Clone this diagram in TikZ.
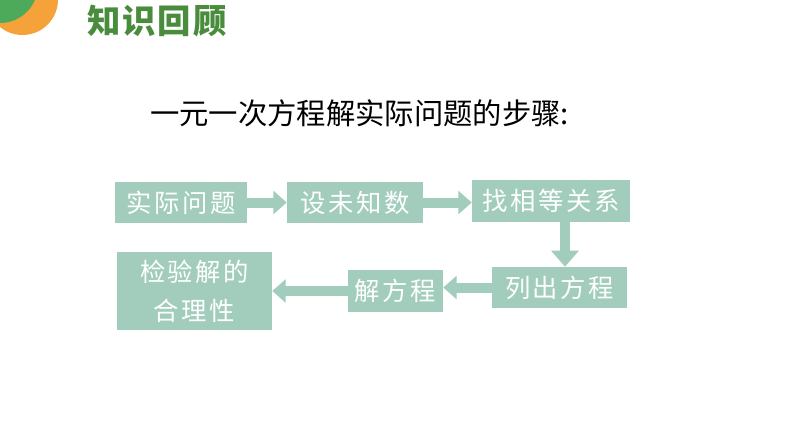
\documentclass[tikz,border=0pt]{standalone}
\usepackage{fontspec}
\usetikzlibrary{arrows.meta}
\newfontfamily\cjk{Noto Sans CJK SC}
\newfontfamily\cjkbox{Noto Sans CJK SC}[LetterSpace=10]
\newfontfamily\cjkhead{Noto Sans CJK SC}[LetterSpace=6]
\definecolor{boxc}{RGB}{162,205,189}
\definecolor{headgreen}{RGB}{72,140,60}
\definecolor{corngreen}{RGB}{76,170,90}
\definecolor{cornorange}{RGB}{246,162,58}
\tikzset{
  stepbox/.style={fill=boxc, text=white, inner sep=0pt, align=center,
    font=\cjkbox\fontsize{19pt}{29pt}\selectfont},
  arr/.style={draw=boxc, line width=7.5pt, -{Triangle[length=10pt,width=17pt]}},
  darr/.style={draw=boxc, line width=8pt, -{Triangle[length=12pt,width=20pt]}}
}
\begin{document}
\begin{tikzpicture}[x=0.75pt,y=-0.75pt]
\useasboundingbox (0,0) rectangle (794,447);
\fill[white] (0,0) rectangle (794,447);
% corner decoration
\begin{scope}
\clip (0,0) rectangle (794,447);
\fill[cornorange] (22.5,-0.5) circle[radius=35.5*0.75pt];
\fill[corngreen] (0,-15) circle[radius=38*0.75pt];
\end{scope}
% header
\node[anchor=west, text=headgreen, font=\cjkhead\bfseries\fontsize{25pt}{25pt}\selectfont, inner sep=0pt] (head) at (87,21) {知识回顾};
% title
\node[anchor=west, text=black, font=\cjk\fontsize{22pt}{22pt}\selectfont, inner sep=0pt] (title) at (150,113) {一元一次方程解实际问题的步骤:};
% boxes
\node[stepbox, minimum width=99pt, minimum height=30.75pt] (A) at (181,202.5) {实际问题};
\node[stepbox, minimum width=102pt, minimum height=30.75pt] (B) at (355,202.5) {设未知数};
\node[stepbox, minimum width=118.5pt, minimum height=31.5pt] (C) at (551,201) {找相等关系};
\node[stepbox, minimum width=101.25pt, minimum height=30.75pt] (D) at (559.5,287.5) {列出方程};
\node[stepbox, minimum width=71.25pt, minimum height=31.5pt] (E) at (395.5,291) {解方程};
\node[stepbox, minimum width=116.25pt, minimum height=58.5pt] (F) at (194.5,291) {检验解的\\合理性};
% arrows
\draw[arr] (A.east) -- (B.west);
\draw[arr] (B.east) -- (C.west |- B.east);
\draw[darr] ([xshift=10.5pt]C.south) -- ([xshift=10.5pt]C.south |- D.north);
\draw[arr] (D.west) -- (E.east |- D.west);
\draw[arr] (E.west) -- (F.east |- E.west);
\end{tikzpicture}
\end{document}
